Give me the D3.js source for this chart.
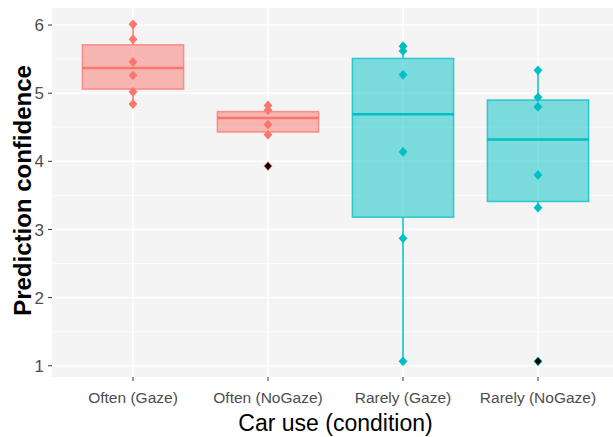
<!DOCTYPE html>
<html>
<head>
<meta charset="utf-8">
<script src="https://cdn.jsdelivr.net/npm/d3@7"></script>
<style>
  html, body { margin: 0; padding: 0; background: #ffffff; }
  svg { display: block; }
</style>
</head>
<body>
<svg id="chart" width="613" height="437"></svg>
<script>
// Prediction confidence by car use and gaze condition
const categories = ["Often (Gaze)", "Often (NoGaze)", "Rarely (Gaze)", "Rarely (NoGaze)"];
const carUse     = ["Often", "Often", "Rarely", "Rarely"];

// Box summaries per condition
const q1         = [5.06, 4.43, 3.18, 3.41];
const medians    = [5.37, 4.635, 4.69, 4.32];
const q3         = [5.71, 4.73, 5.51, 4.90];
const whiskerLow = [4.84, 4.39, 1.065, 3.32];
const whiskerHigh= [6.01, 4.82, 5.69, 5.335];

// Individual participant scores
const scores = [
  [6.01, 5.79, 5.46, 5.26, 5.02, 4.84],
  [4.82, 4.75, 4.54, 4.39, 3.93],
  [5.69, 5.62, 5.27, 4.14, 2.87, 1.065],
  [5.335, 4.94, 4.80, 3.80, 3.32, 1.065]
];
// Boxplot outliers
const outliers = [[], [3.93], [], [1.065]];

const yTicks = [1, 2, 3, 4, 5, 6];
const yMinor = [1.5, 2.5, 3.5, 4.5, 5.5];

const colors = { Often: "#F8766D", Rarely: "#00BFC4" };

const svg = d3.select("#chart");
const panel = { left: 52, top: 8, right: 619, bottom: 377 };

const x = d3.scalePoint().domain(categories).range([panel.left, panel.right]).padding(0.6);
const y = d3.scaleLinear().domain([0.835, 6.25]).range([panel.bottom, panel.top]);
const boxW = x.step() * 0.75;

// panel background
svg.append("rect")
  .attr("x", panel.left).attr("y", panel.top)
  .attr("width", panel.right - panel.left).attr("height", panel.bottom - panel.top)
  .attr("fill", "#F4F4F4");

// grid
const grid = svg.append("g");
grid.selectAll("line.minor").data(yMinor).join("line")
  .attr("x1", panel.left).attr("x2", panel.right)
  .attr("y1", d => y(d)).attr("y2", d => y(d))
  .attr("stroke", "#ffffff").attr("stroke-width", 0.7);
grid.selectAll("line.major").data(yTicks).join("line")
  .attr("x1", panel.left).attr("x2", panel.right)
  .attr("y1", d => y(d)).attr("y2", d => y(d))
  .attr("stroke", "#ffffff").attr("stroke-width", 1.4);
grid.selectAll("line.vmajor").data(categories).join("line")
  .attr("x1", d => x(d)).attr("x2", d => x(d))
  .attr("y1", panel.top).attr("y2", panel.bottom)
  .attr("stroke", "#ffffff").attr("stroke-width", 1.4);

// boxes
const groups = svg.append("g").selectAll("g").data(categories).join("g");
groups.each(function(cat, i) {
  const g = d3.select(this);
  const cx = x(cat);
  const col = colors[carUse[i]];
  // whiskers
  g.append("line")
    .attr("x1", cx).attr("x2", cx)
    .attr("y1", y(q3[i])).attr("y2", y(whiskerHigh[i]))
    .attr("stroke", col).attr("stroke-width", 1.5);
  g.append("line")
    .attr("x1", cx).attr("x2", cx)
    .attr("y1", y(q1[i])).attr("y2", y(whiskerLow[i]))
    .attr("stroke", col).attr("stroke-width", 1.5);
  // box
  g.append("rect")
    .attr("x", cx - boxW / 2).attr("width", boxW)
    .attr("y", y(q3[i])).attr("height", y(q1[i]) - y(q3[i]))
    .attr("fill", col).attr("fill-opacity", 0.5)
    .attr("stroke", col).attr("stroke-opacity", 0.75).attr("stroke-width", 1.5);
  // median
  g.append("line")
    .attr("x1", cx - boxW / 2).attr("x2", cx + boxW / 2)
    .attr("y1", y(medians[i])).attr("y2", y(medians[i]))
    .attr("stroke", col).attr("stroke-width", 2.5);
});

// points
const diamond = d3.symbol().type(d3.symbolDiamond2);
groups.each(function(cat, i) {
  const g = d3.select(this);
  const col = colors[carUse[i]];
  g.selectAll("path.pt").data(scores[i]).join("path")
    .attr("class", "pt")
    .attr("d", diamond.size(50)())
    .attr("transform", d => `translate(${x(cat)},${y(d)}) scale(1,1.1)`)
    .attr("fill", col);
  g.selectAll("path.out").data(outliers[i]).join("path")
    .attr("class", "out")
    .attr("d", diamond.size(32)())
    .attr("transform", d => `translate(${x(cat)},${y(d)}) scale(1,1.1)`)
    .attr("fill", "#000000");
});

// y axis ticks and labels
const yAxis = svg.append("g");
yAxis.selectAll("line").data(yTicks).join("line")
  .attr("x1", panel.left - 4).attr("x2", panel.left)
  .attr("y1", d => y(d)).attr("y2", d => y(d))
  .attr("stroke", "#333333").attr("stroke-width", 1);
yAxis.selectAll("text").data(yTicks).join("text")
  .attr("x", panel.left - 8).attr("y", d => y(d))
  .attr("dy", "0.36em")
  .attr("text-anchor", "end")
  .attr("font-family", "Liberation Sans, Arial, sans-serif")
  .attr("font-size", 17)
  .attr("fill", "#4D4D4D")
  .text(d => d);

// x axis ticks and labels
const xAxis = svg.append("g");
xAxis.selectAll("line").data(categories).join("line")
  .attr("x1", d => x(d)).attr("x2", d => x(d))
  .attr("y1", panel.bottom).attr("y2", panel.bottom + 4)
  .attr("stroke", "#333333").attr("stroke-width", 1);
xAxis.selectAll("text").data(categories).join("text")
  .attr("x", d => x(d)).attr("y", 403)
  .attr("text-anchor", "middle")
  .attr("font-family", "Liberation Sans, Arial, sans-serif")
  .attr("font-size", 15.5)
  .attr("fill", "#4D4D4D")
  .text(d => d);

// axis titles
svg.append("text")
  .attr("x", (panel.left + panel.right) / 2).attr("y", 431)
  .attr("text-anchor", "middle")
  .attr("font-family", "Liberation Sans, Arial, sans-serif")
  .attr("font-size", 23)
  .attr("fill", "#000000")
  .text("Car use (condition)");

svg.append("text")
  .attr("transform", `translate(31,${(panel.top + panel.bottom) / 2 - 2}) rotate(-90)`)
  .attr("text-anchor", "middle")
  .attr("font-family", "Liberation Sans, Arial, sans-serif")
  .attr("font-size", 24)
  .attr("font-weight", "bold")
  .attr("fill", "#000000")
  .text("Prediction confidence");
</script>
</body>
</html>
